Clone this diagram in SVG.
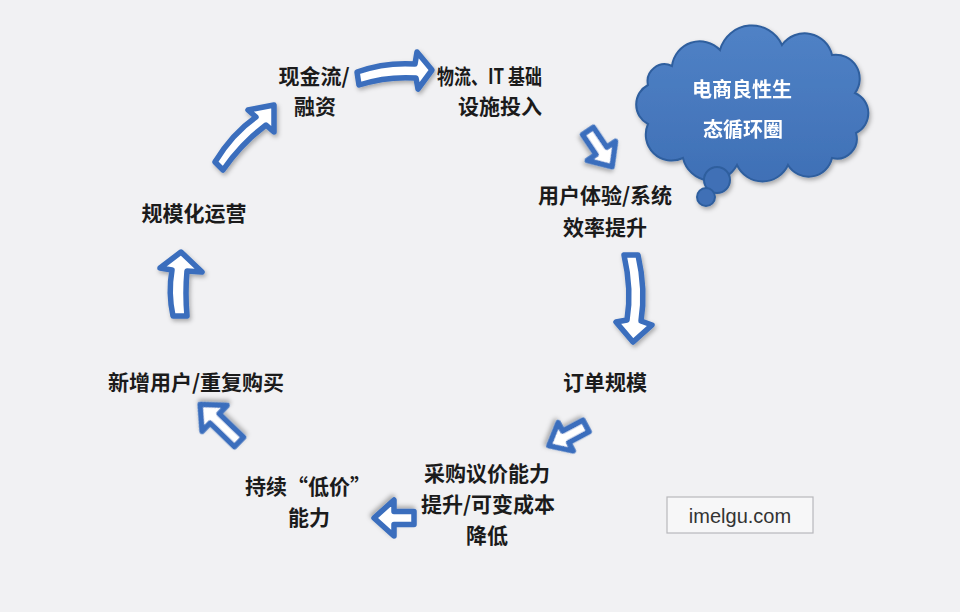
<svg xmlns="http://www.w3.org/2000/svg" width="960" height="612" viewBox="0 0 960 612">
<defs>
<filter id="sh" x="-30%" y="-30%" width="160%" height="160%">
<feDropShadow dx="1.5" dy="2.5" stdDeviation="2" flood-color="#000" flood-opacity="0.3"/>
</filter>
<linearGradient id="cg" x1="0" y1="0" x2="0" y2="1">
<stop offset="0" stop-color="#5082c6"/>
<stop offset="1" stop-color="#3f70b6"/>
</linearGradient>
</defs>
<style>
.lbl{font-family:"Noto Sans CJK SC","Liberation Sans",sans-serif;font-weight:bold;font-size:21px;fill:#1b1b1b;text-anchor:middle}
.cl{font-family:"Noto Sans CJK SC","Liberation Sans",sans-serif;font-weight:bold;font-size:20px;fill:#ffffff;text-anchor:middle}
.arr{fill:#ffffff;stroke:#3a6ebd;stroke-width:5.5;stroke-linejoin:round;filter:url(#sh)}
</style>
<rect x="0" y="0" width="960" height="612" fill="#f1f1f3"/>

<g id="connectors">
<path class="arr" d="M357,72 Q385,62 415,64 L417,52 L432,70 L418,89 L416,78 Q387,76 359,85 Z"/>
<path class="arr" transform="translate(588,131) rotate(56)" d="M0,-6.5 L24,-6.5 L24,-17 L43,0 L24,17 L24,6.5 L0,6.5 Z"/>
<path class="arr" d="M624,255 L638,255 Q646,290 641,321 L652,325 L633,342 L616,322 L627,320 Q632,290 624,255 Z"/>
<path class="arr" transform="translate(586,426) rotate(152)" d="M0,-6.5 L23,-6.5 L23,-16 L42,0 L23,16 L23,6.5 L0,6.5 Z"/>
<path class="arr" transform="translate(414,518) rotate(180)" d="M0,-6.5 L20,-6.5 L20,-18 L40,0 L20,18 L20,6.5 L0,6.5 Z"/>
<path class="arr" transform="translate(239,442) rotate(-136)" d="M0,-6.5 L34,-6.5 L34,-18 L54,0 L34,18 L34,6.5 L0,6.5 Z"/>
<path class="arr" d="M173,316 Q168,293 172,270 L160,268 L181,252 L202,272 L187,271 Q185,293 187,316 Z"/>
<path class="arr" d="M215,162 Q232,134 256,117 L248,110 L274,105 L274,132 L266,125 Q242,143 223,170 Z"/>
</g>

<g id="n-cash"><text class="lbl" x="314" y="84">现金流/</text><text class="lbl" x="315" y="114">融资</text></g>
<g id="n-infra"><text class="lbl" x="437" y="84" style="text-anchor:start" textLength="105" lengthAdjust="spacingAndGlyphs">物流、IT 基础</text><text class="lbl" x="500" y="114">设施投入</text></g>
<g id="n-ux"><text class="lbl" x="605" y="203">用户体验/系统</text><text class="lbl" x="605" y="235">效率提升</text></g>
<g id="n-order"><text class="lbl" x="605" y="390">订单规模</text></g>
<g id="n-purchase"><text class="lbl" x="487" y="481">采购议价能力</text><text class="lbl" x="488" y="512">提升/可变成本</text><text class="lbl" x="487" y="543">降低</text></g>
<g id="n-lowprice"><text class="lbl" x="308" y="494">持续“低价”</text><text class="lbl" x="309" y="525">能力</text></g>
<g id="n-users"><text class="lbl" x="196" y="390">新增用户/重复购买</text></g>
<g id="n-scale"><text class="lbl" x="194" y="221">规模化运营</text></g>

<g id="n-cloud" filter="url(#sh)">
<path fill="url(#cg)" stroke="#2f5e9e" stroke-width="2" d="M672,66 A28,28 0 0 1 720,50 A33,33 0 0 1 782,45 A28,28 0 0 1 832,55 A24,24 0 0 1 855,93 A22,22 0 0 1 856,133 A20,20 0 0 1 832,158 A24,24 0 0 1 788,165 A28,28 0 0 1 737,165 A29,29 0 0 1 683,158 A26,26 0 0 1 648,124 A22,22 0 0 1 648,85 A17,17 0 0 1 672,66 Z"/>
<circle cx="717" cy="180" r="13" fill="#3f70b6" stroke="#2f5e9e" stroke-width="2"/>
<circle cx="706" cy="197" r="9" fill="#3f70b6" stroke="#2f5e9e" stroke-width="2"/>
<text class="cl" x="742" y="97">电商良性生</text>
<text class="cl" x="743" y="137">态循环圈</text>
</g>

<g id="n-watermark">
<rect x="667" y="497" width="146" height="36" fill="#f7f7f8" stroke="#b8b8bc" stroke-width="1.2"/>
<text x="740" y="523" font-family="Liberation Sans, Arial, sans-serif" font-size="20" fill="#333333" text-anchor="middle">imelgu.com</text>
</g>
</svg>
